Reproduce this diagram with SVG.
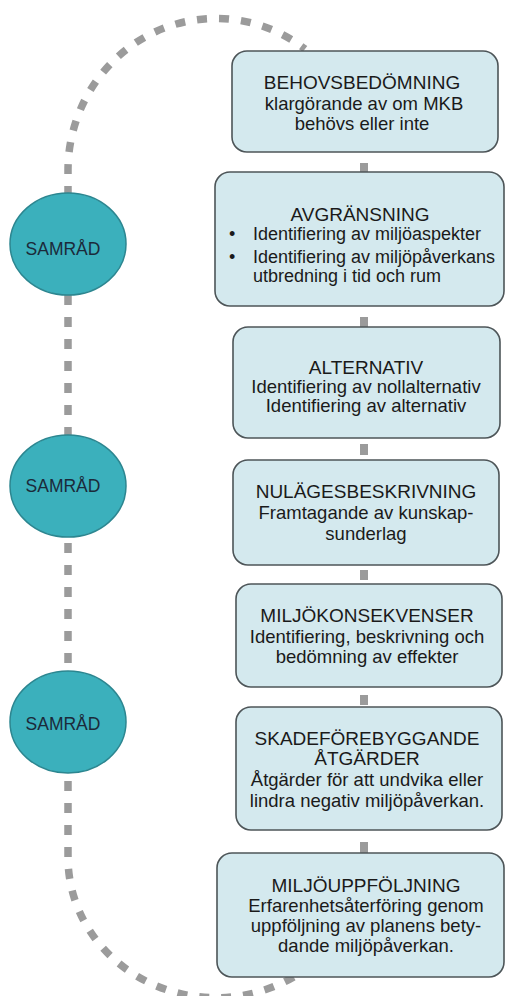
<svg xmlns="http://www.w3.org/2000/svg" width="505" height="996" viewBox="0 0 505 996">
  <style>
    .loop { fill: none; stroke: #9b9b9b; stroke-width: 7.5; stroke-dasharray: 10 12; }
    .conn { fill: none; stroke: #9b9b9b; stroke-width: 8; }
    .box { fill: #d4e9ee; stroke: #4d5558; stroke-width: 1.6; }
    .circ { fill: #3bb0bc; stroke: #2c8690; stroke-width: 1.5; }
    .t { font-family: "Liberation Sans", Arial, sans-serif; font-size: 18.5px; fill: #1a1a1a; text-anchor: middle; }
    .tl { font-family: "Liberation Sans", Arial, sans-serif; font-size: 18px; fill: #1a1a1a; }
    .h { font-size: 19px; }
    .s { font-family: "Liberation Sans", Arial, sans-serif; font-size: 17.5px; fill: #1b2a3a; text-anchor: middle; }
  </style>
  <rect width="505" height="996" fill="#ffffff"/>
  <g id="connectors">
    <path class="loop" d="M 68 193 L 68 170 A 148 152 0 0 1 305 49" stroke-dashoffset="3"/>
    <path class="loop" d="M 68 295 L 68 435"/>
    <path class="loop" d="M 68 537 L 68 672" stroke-dashoffset="-6"/>
    <path class="loop" d="M 68 773 L 68 858 A 148 140 0 0 0 300 973" stroke-dashoffset="-8"/>
    <line class="conn" x1="364" y1="163" x2="364" y2="173"/>
    <line class="conn" x1="364" y1="317" x2="364" y2="327"/>
    <line class="conn" x1="364" y1="444" x2="364" y2="455"/>
    <line class="conn" x1="364" y1="570" x2="364" y2="580"/>
    <line class="conn" x1="364" y1="695" x2="364" y2="705"/>
    <line class="conn" x1="364" y1="842" x2="364" y2="853"/>
  </g>
  <g id="samrad1">
    <ellipse class="circ" cx="68" cy="244" rx="58" ry="51"/>
    <text class="s" x="63" y="255">SAMRÅD</text>
  </g>
  <g id="samrad2">
    <ellipse class="circ" cx="68" cy="486" rx="58" ry="51"/>
    <text class="s" x="63" y="492">SAMRÅD</text>
  </g>
  <g id="samrad3">
    <ellipse class="circ" cx="68" cy="722" rx="58" ry="51"/>
    <text class="s" x="63" y="730">SAMRÅD</text>
  </g>
  <g id="behovsbedomning">
    <rect class="box" x="232" y="51" width="266" height="101" rx="15"/>
    <text class="t h" x="362" y="89">BEHOVSBEDÖMNING</text>
    <text class="t" x="364" y="110">klargörande av om MKB</text>
    <text class="t" x="362" y="130">behövs eller inte</text>
  </g>
  <g id="avgransning">
    <rect class="box" x="215" y="172" width="289" height="134" rx="15"/>
    <text class="t h" x="360" y="221">AVGRÄNSNING</text>
    <text class="tl" x="229" y="240">•</text>
    <text class="tl" x="253" y="240">Identifiering av miljöaspekter</text>
    <text class="tl" x="229" y="263">•</text>
    <text class="tl" x="253" y="263">Identifiering av miljöpåverkans</text>
    <text class="tl" x="253" y="282">utbredning i tid och rum</text>
  </g>
  <g id="alternativ">
    <rect class="box" x="233" y="327" width="267" height="111" rx="15"/>
    <text class="t h" x="366" y="374">ALTERNATIV</text>
    <text class="t" x="366" y="393">Identifiering av nollalternativ</text>
    <text class="t" x="366" y="412">Identifiering av alternativ</text>
  </g>
  <g id="nulagesbeskrivning">
    <rect class="box" x="233" y="460" width="266" height="105" rx="15"/>
    <text class="t h" x="366" y="498">NULÄGESBESKRIVNING</text>
    <text class="t" x="366" y="519">Framtagande av kunskap-</text>
    <text class="t" x="366" y="540">sunderlag</text>
  </g>
  <g id="miljokonsekvenser">
    <rect class="box" x="236" y="584" width="266" height="103" rx="15"/>
    <text class="t h" x="367" y="622">MILJÖKONSEKVENSER</text>
    <text class="t" x="367" y="643">Identifiering, beskrivning och</text>
    <text class="t" x="367" y="663">bedömning av effekter</text>
  </g>
  <g id="skadeforebyggande">
    <rect class="box" x="236" y="707" width="266" height="123" rx="15"/>
    <text class="t h" x="367" y="745">SKADEFÖREBYGGANDE</text>
    <text class="t h" x="367" y="765">ÅTGÄRDER</text>
    <text class="t" x="367" y="786">Åtgärder för att undvika eller</text>
    <text class="t" x="367" y="807">lindra negativ miljöpåverkan.</text>
  </g>
  <g id="miljouppfoljning">
    <rect class="box" x="217" y="853" width="287" height="124" rx="15"/>
    <text class="t h" x="366" y="892">MILJÖUPPFÖLJNING</text>
    <text class="t" x="366" y="912">Erfarenhetsåterföring genom</text>
    <text class="t" x="366" y="932">uppföljning av planens bety-</text>
    <text class="t" x="366" y="952">dande miljöpåverkan.</text>
  </g>
</svg>
